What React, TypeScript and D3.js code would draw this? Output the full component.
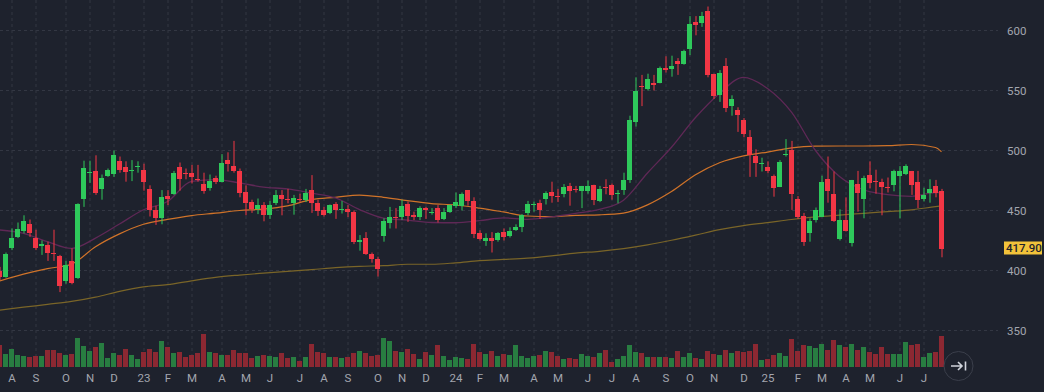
import React from 'react';
import * as d3 from 'd3';

const WIDTH = 1044;
const HEIGHT = 392;

// weekly bars, first one dated Fri 22 Jul 2022
const START = new Date(2022, 6, 22);
const MONTHS = ['J', 'F', 'M', 'A', 'M', 'J', 'J', 'A', 'S', 'O', 'N', 'D'];

const opens = [
    400, 395, 418.5, 428, 433, 439, 427.5, 420, 421, 414.5, 412, 391, 408, 394, 460, 481, 483, 468, 479, 480.5,
    491.5, 486, 482.5, 486, 483.5, 468, 450.5, 444, 462.5, 464, 486, 481.5, 481.5, 476.5, 472, 469, 477.5, 474, 492, 487,
    483, 465.5, 457, 451.5, 454.5, 446.5, 456.5, 463, 459.5, 456, 460, 459, 467, 456, 450.5, 448, 455.5, 450.5, 451, 449,
    424, 427.5, 414, 409.5, 429, 440, 444.5, 444.5, 455.5, 446, 445, 452, 448.5, 452, 443, 449, 454, 454, 467, 458,
    431, 425, 427.5, 425.5, 432, 429, 434, 436, 448, 455, 456, 459.5, 465.5, 462, 464, 470.5, 468, 466.5, 466.5, 471,
    458, 469.5, 471, 464, 467, 475.5, 524, 553.5, 551, 556, 556.5, 568.5, 568, 574.5, 572.5, 584.5, 607, 606, 616, 563.5,
    546, 570.5, 537, 534, 525.5, 511.5, 495.5, 488.5, 486, 479, 470, 496.5, 500.5, 459.5, 445.5, 431, 442, 445, 476, 464,
    426, 442, 423, 472.5, 459.5, 479.5, 475, 474, 469.5, 471.5, 479, 480.5, 482.5, 474, 459.5, 465, 470.5, 466,
];
const highs = [
    403, 415, 435, 440, 446, 442.5, 434, 425, 424, 434, 413, 408, 418.5, 456, 491.5, 491.5, 496, 480, 485, 500,
    495, 491, 492, 491, 489, 471, 454, 467, 467, 483, 490, 485, 488, 488, 481.5, 480, 479, 497, 498.5, 508,
    485, 471, 459, 460, 457, 458, 467, 467, 468, 463, 464, 468, 479.5, 459, 453, 455, 457, 458, 454.5, 450,
    429.5, 432, 415, 411.5, 443.5, 453, 452, 459, 457.5, 449, 453.5, 453, 452, 454.5, 452, 455, 465, 465, 467, 461,
    433.5, 431, 432, 432, 435, 436, 438.5, 447, 458, 457.5, 459, 466, 474, 468, 472, 473, 470.5, 470.5, 475, 471.5,
    470.5, 476, 472.5, 467, 481.5, 529, 561, 563, 564, 563, 570, 578.5, 579, 577, 584, 612, 612, 615.5, 620, 564,
    567, 577, 546, 536, 527, 517, 501, 494, 491, 480, 492, 509.5, 508, 462, 448, 443.5, 452.5, 479, 495, 482.5,
    451, 461, 475.5, 483, 479, 491, 484, 476.5, 477.5, 484, 487, 488.5, 483, 483, 469, 476, 475.5, 468,
];
const lows = [
    392, 394, 417, 427, 431, 428, 417, 413, 408, 408, 382, 389, 388.5, 393, 453, 473, 463, 459, 478, 478,
    481.5, 474, 474.5, 481.5, 466.5, 445, 438, 438.5, 454.5, 463, 466.5, 476, 472.5, 474, 464, 466.5, 472, 473.5, 482.5, 481.5,
    461, 446, 448, 447, 441, 443, 454.5, 446, 456, 446.5, 457, 457, 448, 445.5, 445, 447, 443, 447.5, 444.5, 422,
    416.5, 413, 406.5, 395, 424, 435, 435, 442, 440.5, 442, 442, 443, 446.5, 440, 442, 448, 452, 450, 454, 427,
    425, 420.5, 415, 424, 425, 427.5, 433, 432, 446, 449, 443, 455, 456.5, 457, 461, 454, 465, 452, 464, 454.5,
    457, 463.5, 459, 456, 463, 473, 520, 537, 550, 550, 556, 565, 561.5, 563, 571.5, 579.5, 596, 603, 561, 543,
    540.5, 532, 529, 515.5, 511, 478, 478, 482.5, 481, 461.5, 469.5, 495, 450.5, 443, 420.5, 424, 440, 444.5, 456.5, 440.5,
    425, 432.5, 420, 449, 443.5, 468.5, 464, 446, 465, 466, 443.5, 479.5, 463, 452, 457.5, 456.5, 461, 411,
];
const closes = [
    395, 414, 427, 434.5, 441, 431.5, 419, 422, 415, 414, 387, 404.5, 389.5, 455.5, 485.5, 482, 465, 477, 484, 496,
    484, 482, 483.5, 487, 474, 450.5, 444, 461, 459.5, 481.5, 476, 480.5, 478, 476, 466.5, 474.5, 473.5, 490, 489, 483,
    465, 456.5, 451, 454.5, 446.5, 454.5, 463, 459.5, 459, 460.5, 459, 465, 456, 449.5, 446.5, 454.5, 450.5, 451.5, 449, 424,
    425.5, 414, 409.5, 401, 441, 444.5, 444, 454, 445.5, 445, 452, 450, 449, 442, 449, 454.5, 457.5, 464, 458, 430.5,
    426, 427.5, 425, 431, 428, 433, 436, 446.5, 455.5, 455.5, 450.5, 465, 462, 461.5, 470, 466.5, 467.5, 470.5, 470.5, 459,
    468, 468.5, 463, 464.5, 475.5, 525.5, 549.5, 552.5, 560, 555, 568.5, 567.5, 570.5, 572.5, 583, 605.5, 604.5, 612, 563, 545.5,
    565, 535.5, 543, 529.5, 513.5, 496.5, 490, 489.5, 482.5, 469, 490.5, 497.5, 464, 445, 424, 441, 450.5, 474, 466.5, 441,
    442, 433, 475.5, 465, 477.5, 473, 474, 469.5, 469, 483, 482.5, 487, 471.5, 459, 463, 468, 465, 417.9,
];
// volume, in 100k shares
const volumes = [
    21.7, 12.7, 17.7, 11.7, 10.7, 9.7, 10.7, 10.7, 16.7, 16.7, 13.7, 11.7, 12.7, 28.7, 20.7, 15.7, 19.7, 23.7, 8.7, 13.7,
    11.7, 17.7, 11.7, 7.7, 14.7, 17.7, 14.7, 25.7, 19.7, 13.7, 14.7, 9.7, 11.7, 13.7, 32.7, 14.7, 13.7, 11.7, 11.7, 16.7,
    13.7, 13.7, 8.7, 10.7, 11.7, 10.7, 9.7, 13.7, 8.7, 9.7, 5.7, 9.7, 22.7, 14.7, 13.7, 9.7, 9.7, 8.7, 9.7, 13.7,
    15.7, 13.7, 10.7, 11.7, 28.7, 25.7, 15.7, 14.7, 17.7, 12.7, 7.7, 14.7, 11.7, 21.7, 10.7, 6.7, 9.7, 8.7, 7.7, 22.7,
    14.7, 12.7, 15.7, 10.7, 12.7, 11.7, 21.7, 10.7, 8.7, 10.7, 11.7, 15.7, 14.7, 10.7, 7.7, 8.7, 7.7, 12.7, 10.7, 9.7,
    14, 16.7, 4.7, 7.7, 10.7, 21.7, 14.7, 13.7, 9.7, 9.7, 9.7, 9.7, 8.7, 15.7, 9.7, 13.7, 8.7, 7.7, 15.7, 12.7,
    11.7, 16.7, 13.7, 15.7, 14.7, 15.7, 22.7, 6.7, 7.7, 11.7, 13.7, 10.7, 27.7, 15.7, 21.7, 20.7, 18.7, 22.7, 16.7, 26.7,
    21.7, 19.7, 22.7, 16.7, 19.7, 14.7, 12.7, 19.7, 12.7, 12.7, 12.7, 24.7, 21.7, 22.7, 9.7, 13.7, 14.7, 30.7,
];

const maIndex = [
    0, 4, 8, 12, 16, 20, 24, 28, 32, 36, 40, 44, 48, 52, 56, 60, 64, 68, 72, 76,
    80, 84, 88, 92, 96, 100, 104, 108, 112, 116, 120, 124, 128, 132, 136, 140, 144, 148, 152, 156, 157,
];
const maFast = [
    433.8, 431, 424, 418.4, 427, 438.7, 450.6, 457.5, 474.2, 475.7, 473, 469.5, 468, 464.5, 460.5, 450.8, 443.7, 442, 440, 439.8,
    441.5, 443.8, 442.6, 444.7, 447.6, 450.9, 458.6, 481.3, 502.7, 527.5, 547.6, 561, 551.7, 532, 500, 478.4, 467.3, 463.3, 461.8, 464.9, 464.9,
];
const maMid = [
    391.3, 397, 401.6, 405.3, 419.8, 430.5, 438.5, 442.6, 445.8, 447.8, 450, 451.2, 453.9, 459.1, 461, 462.8, 461, 458.2, 455.8, 454.6,
    452, 448.8, 445.4, 444.9, 446, 446.4, 447.8, 454.7, 465.8, 479.8, 489.8, 495.5, 498.7, 502.2, 503.6, 503.75, 503.75, 504, 505, 502.5, 499,
];
const maSlow = [
    367, 369.4, 371.8, 374.2, 377.8, 382.6, 386.3, 388.2, 391.4, 394.3, 396.2, 397.8, 399.3, 400.7, 402.4, 403.5, 404, 405.2, 405.2, 406.4,
    408.2, 409.2, 410.3, 412.2, 414.5, 416, 418.2, 421.3, 425.2, 429.5, 434, 437.4, 439.9, 442.5, 444.7, 446.2, 447.6, 449.1, 450.6, 453.2, 453.8,
];

const priceTicks = [350, 400, 450, 500, 550, 600];
const lastPrice = 417.9;

const BG = '#1e222d';
const GRID = '#333743';
const TEXT = '#a3a6af';
const UP = '#2ec95b';
const DOWN = '#f23645';
const VOL_UP = '#287d41';
const VOL_DOWN = '#8c2832';

const FONT = 'Roboto, "Noto Sans", sans-serif';

export default function App() {
    const n = closes.length;
    const x = d3.scaleLinear().domain([0, n - 1]).range([-0.5, 6 * (n - 1) - 0.5]);
    const y = d3.scaleLinear().domain([350, 600]).range([330.5, 30.5]);
    const yVol = d3.scaleLinear().domain([0, 40]).range([366.7, 326.7]);

    const dates = d3.range(n).map(i => d3.timeDay.offset(START, 7 * i));
    const monthTicks = d3.range(1, n)
        .filter(i => dates[i].getMonth() !== dates[i - 1].getMonth())
        .map(i => ({
            i,
            label: dates[i].getMonth() === 0
                   ? String(dates[i].getFullYear()).slice(2)
                   : MONTHS[dates[i].getMonth()],
        }));

    const maLine = d3.line<number>()
        .x((_, k) => x(maIndex[k]))
        .y(v => y(v))
        .curve(d3.curveMonotoneX);

    const bodyW = 5;

    return (
        <div style={{position: 'absolute', left: 0, top: 0}}>
            <svg width={WIDTH} height={HEIGHT} style={{display: 'block', background: BG}}>
                <rect width={WIDTH} height={HEIGHT} fill={BG}/>

                {/* grid */}
                {priceTicks.map(t => (
                    <line key={'h' + t} x1={0} x2={998} y1={y(t)} y2={y(t)}
                          stroke={GRID} strokeDasharray="3 3"/>
                ))}
                {monthTicks.map(t => (
                    <line key={'v' + t.i} x1={x(t.i) + 0.5} x2={x(t.i) + 0.5} y1={0} y2={367}
                          stroke={GRID} strokeDasharray="3 3"/>
                ))}

                {/* volume */}
                {volumes.map((v, i) => {
                    const top = Math.round(yVol(v));
                    return (
                        <rect key={'vol' + i} x={Math.round(x(i) - bodyW / 2)} y={top}
                              width={bodyW} height={Math.round(yVol(0)) - top}
                              fill={closes[i] >= opens[i] ? VOL_UP : VOL_DOWN}/>
                    );
                })}

                {/* moving averages */}
                <path d={maLine(maSlow) || ''} fill="none" stroke="#7a6528" strokeWidth={1.2}/>
                <path d={maLine(maMid) || ''} fill="none" stroke="#d07329" strokeWidth={1.2}/>
                <path d={maLine(maFast) || ''} fill="none" stroke="#5f2856" strokeWidth={1.3}/>

                {/* candles */}
                {closes.map((c, i) => {
                    const o = opens[i];
                    const color = c >= o ? UP : DOWN;
                    const cx = x(i);
                    const top = Math.round(y(Math.max(o, c)));
                    const bottom = Math.round(y(Math.min(o, c)));
                    return (
                        <g key={'c' + i}>
                            <line x1={cx + 0.5} x2={cx + 0.5} y1={y(highs[i])} y2={y(lows[i])}
                                  stroke={color} strokeWidth={1}/>
                            <rect x={Math.round(cx - bodyW / 2)} y={top} width={bodyW}
                                  height={Math.max(1, bottom - top)} fill={color}/>
                        </g>
                    );
                })}

                {/* price axis */}
                {priceTicks.map(t => (
                    <text key={'pt' + t} x={1007} y={y(t)} dy="0.35em" fill={TEXT}
                          fontFamily={FONT} fontSize={11.5}>{t}</text>
                ))}
                <rect x={1004} y={Math.round(y(lastPrice)) - 7.5} width={38} height={13} fill="#f2c23a"/>
                <text x={1006} y={y(lastPrice) - 1} dy="0.35em" fill="#1e222d"
                      fontFamily={FONT} fontSize={11.5} fontWeight={500}>{lastPrice.toFixed(2)}</text>

                {/* time axis */}
                {monthTicks.map(t => (
                    <text key={'mt' + t.i} x={x(t.i) + 0.5} y={378} dy="0.35em" textAnchor="middle"
                          fill={TEXT} fontFamily={FONT} fontSize={11.5}>{t.label}</text>
                ))}

                {/* scroll to realtime button */}
                <circle cx={958.5} cy={366} r={14.5} fill={BG} stroke="#3b3f4b"/>
                <g stroke="#d1d4dc" strokeWidth={1.6} fill="none">
                    <path d="M951,366 H962 M958,362 L962,366 L958,370"/>
                    <path d="M965.5,361.5 V370.5"/>
                </g>
            </svg>
        </div>
    );
}
